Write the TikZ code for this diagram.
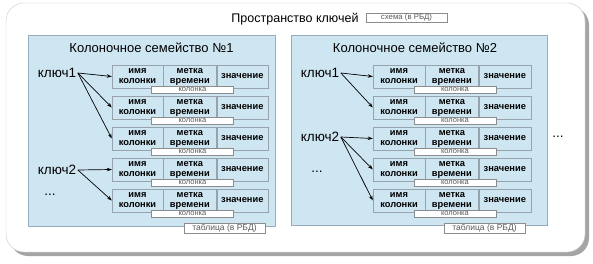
\documentclass[tikz,border=0pt]{standalone}
\usepackage{fontspec}
\setmainfont{Liberation Sans}
\usetikzlibrary{positioning, arrows.meta}

\definecolor{famfill}{RGB}{206,230,242}
\definecolor{famline}{RGB}{150,172,188}
\definecolor{cellline}{RGB}{150,162,172}
\definecolor{tagline}{RGB}{140,140,140}
\definecolor{tagtext}{RGB}{90,90,90}
\definecolor{outerline}{RGB}{200,200,200}
\definecolor{shadowgray}{RGB}{165,165,165}

\begin{document}
\begin{tikzpicture}[x=1pt, y=-1pt,
    fam/.style={draw=famline, fill=famfill, line width=0.6pt},
    famtitle/.style={font=\fontsize{13}{14}\selectfont},
    keytxt/.style={font=\fontsize{13.5}{14}\selectfont, inner sep=1.5pt},
    cell/.style={rectangle, draw=cellline, fill=famfill, minimum height=23pt, inner sep=0pt, align=center, font=\fontsize{9.3}{10}\selectfont\bfseries},
    coltag/.style={rectangle, draw=tagline, fill=white, minimum width=82pt, minimum height=7pt, inner sep=0pt, line width=0.4pt, text=tagtext, font=\fontsize{7.5}{7}\selectfont},
    dbtag/.style={rectangle, draw=tagline, fill=white, minimum width=81pt, minimum height=9.5pt, inner sep=0pt, line width=0.4pt, text=tagtext, font=\fontsize{8.5}{8}\selectfont},
    arrow/.style={line width=0.7pt, -{Stealth[length=5pt, width=3.5pt]}}
]
\useasboundingbox (0,0) rectangle (593,264);
% key space
\fill [shadowgray, rounded corners=18pt] (10,7) rectangle (589,256);
\draw [outerline, fill=white, rounded corners=18pt] (6,3) rectangle (585,252);
\node (space) [famtitle, font=\fontsize{12.5}{14}\selectfont] at (295,19) {Пространство ключей};
\node (schema) [dbtag, minimum height=9pt, font=\fontsize{7.8}{8}\selectfont] at (406.5,17.5) {схема (в РБД)};
\node (more) [keytxt] at (558,137) {...};

% column family 1
\draw [fam] (28,35) rectangle (275,226);
\node (fam1) [famtitle] at (151.5,47.5) {Колоночное семейство №1};
\foreach \i/\y in {1/76.5, 2/107.5, 3/138.5, 4/169.5, 5/200.5} {
  \node (a\i) [cell, minimum width=51pt] at (137.5,\y) {имя\\колонки};
  \node (b\i) [cell, minimum width=53pt, right=0pt of a\i] {метка\\времени};
  \node (c\i) [cell, minimum width=51pt, right=0pt of b\i] {значение};
  \node (t\i) [coltag] at ([xshift=2.5pt, yshift=-1.5pt]b\i.south) {колонка};
}
\node (k11) [keytxt] at (57,73) {ключ1};
\node (k12) [keytxt] at (57,170) {ключ2};
\node (dots1) [keytxt] at (50,195) {...};
\draw [arrow] (k11.east) -- (a1.west);
\draw [arrow] (k11.east) -- (a2.west);
\draw [arrow] (k11.east) -- (a3.west);
\draw [arrow] (k12.east) -- (a4.west);
\draw [arrow] (k12.east) -- (a5.west);
\node (tab1) [dbtag] at (224.5,228) {таблица (в РБД)};

% column family 2
\draw [fam] (291,35) rectangle (547,225);
\node (fam2) [famtitle] at (415,47.5) {Колоночное семейство №2};
\foreach \i/\y in {1/76.5, 2/107.5, 3/138.5, 4/169.5, 5/200.5} {
  \node (d\i) [cell, minimum width=52pt] at (399,\y) {имя\\колонки};
  \node (e\i) [cell, minimum width=53pt, right=0pt of d\i] {метка\\времени};
  \node (f\i) [cell, minimum width=52pt, right=0pt of e\i] {значение};
  \node (u\i) [coltag] at ([xshift=3pt, yshift=-1.5pt]e\i.south) {колонка};
}
\node (k21) [keytxt] at (320,73) {ключ1};
\node (k22) [keytxt] at (320,137) {ключ2};
\node (dots2) [keytxt] at (317,172) {...};
\draw [arrow] (k21.east) -- (d1.west);
\draw [arrow] (k21.east) -- (d2.west);
\draw [arrow] (k22.east) -- (d3.west);
\draw [arrow] (k22.east) -- (d4.west);
\draw [arrow] (k22.east) -- (d5.west);
\node (tab2) [dbtag] at (484.5,228) {таблица (в РБД)};
\end{tikzpicture}
\end{document}
